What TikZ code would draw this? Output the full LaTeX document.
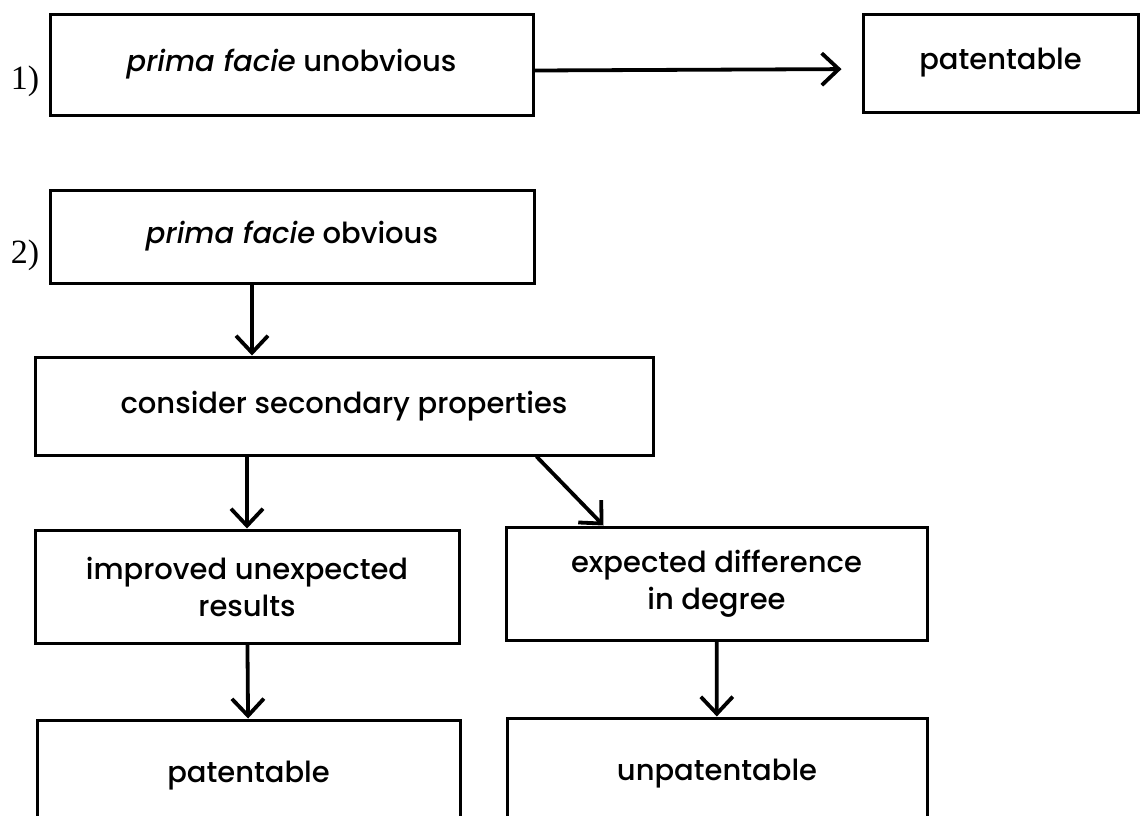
\documentclass[tikz,border=0pt]{standalone}
\usepackage{fontspec}
\setmainfont{Poppins}[UprightFont={* Medium},ItalicFont={* Medium Italic}]
\newfontfamily\numfont{Liberation Serif}
\usetikzlibrary{arrows.meta}

\begin{document}
\begin{tikzpicture}[x=0.5pt,y=-0.5pt,
  box/.style={draw,line width=1.5pt,inner sep=0pt,align=center,
    font=\fontsize{14.5}{18.5}\selectfont},
  arr/.style={line width=1.9pt,-{Straight Barb[length=8.5pt,width=16pt]}},
  nr/.style={font=\numfont\fontsize{17}{20}\selectfont}]
\clip (0,0) rectangle (1142,815);
% case 1
\node[nr] (n1) at (25,81) {1)};
\node[box,minimum width=241.5pt,minimum height=50.5pt] (unobv) at (291.5,64.5)
  {\textit{prima facie} unobvious};
\node[box,minimum width=137.5pt,minimum height=49pt] (pat1) at (1000.5,63) {patentable};
\draw[arr,shorten >=10pt] ([yshift=-3pt]unobv.east) -- ([yshift=-3pt]pat1.west);
% case 2
\node[nr] (n2) at (25,255) {2)};
\node[box,minimum width=242pt,minimum height=46.5pt] (obv) at (292,236.5)
  {\textit{prima facie} obvious};
\node[box,minimum width=309pt,minimum height=49pt] (cons) at (344,406)
  {consider secondary properties};
\node[box,minimum width=212pt,minimum height=56.5pt] (imp) at (247,586.5)
  {improved unexpected\\results};
\node[box,minimum width=210.5pt,minimum height=56.5pt] (exp) at (716.5,583.5)
  {expected difference\\in degree};
\node[box,minimum width=211.5pt,minimum height=56pt] (pat2) at (248.5,776) {patentable};
\node[box,minimum width=210pt,minimum height=56pt] (unpat) at (717,774) {unpatentable};
\draw[arr] ([xshift=2.5pt]obv.south -| imp.north) -- ([xshift=2.5pt]cons.north -| imp.north);
\draw[arr] (cons.south -| imp.north) -- (imp.north);
\draw[arr] ([xshift=-59pt]cons.south east) -- ([xshift=49.5pt]exp.north west);
\draw[arr] (imp) -- (pat2);
\draw[arr] (exp) -- (unpat);
\end{tikzpicture}
\end{document}
